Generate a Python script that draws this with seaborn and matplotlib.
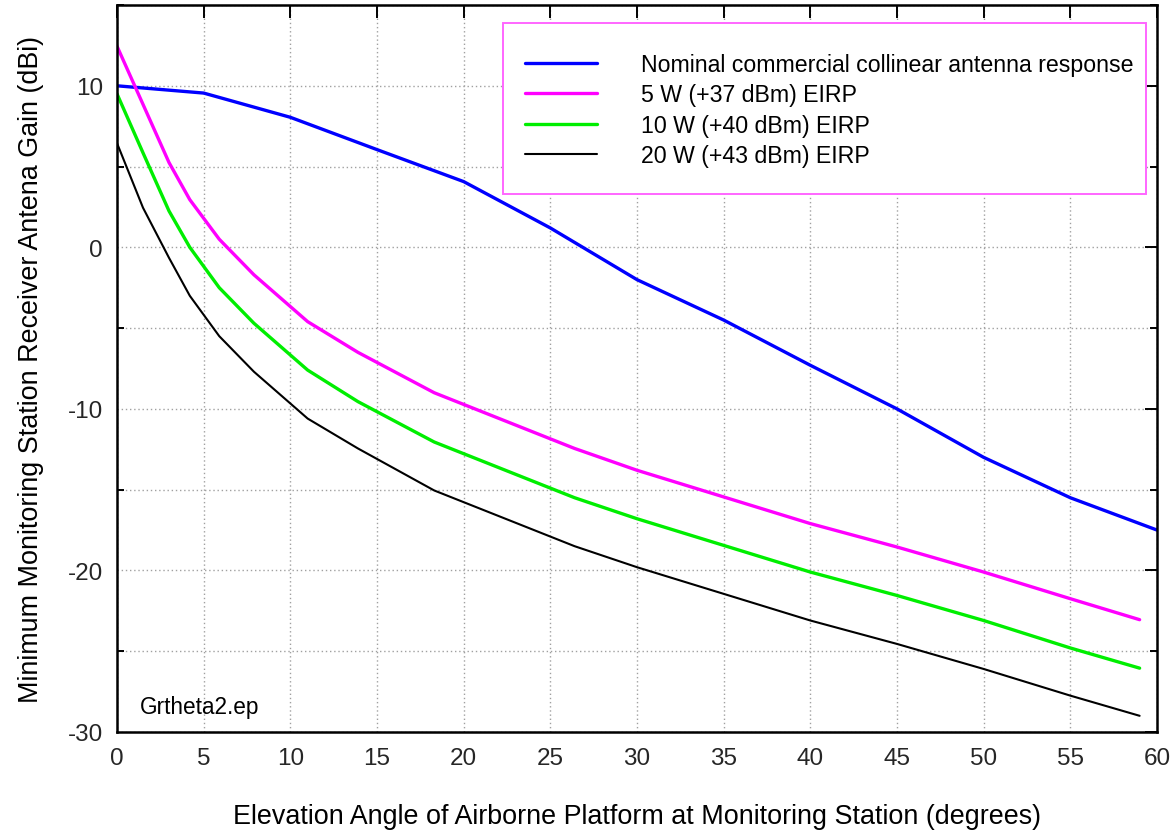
import matplotlib
matplotlib.use("Agg")
import matplotlib.pyplot as plt
from matplotlib.patches import Rectangle
from matplotlib.ticker import MultipleLocator, FixedLocator
import numpy as np
import pandas as pd
import seaborn as sns

# Nominal collinear antenna gain vs elevation angle
antenna_angle = [0, 5, 10, 15, 20, 25, 30, 35, 40, 45, 50, 55, 60]
antenna_gain = [10.0, 9.55, 8.05, 6.05, 4.07, 1.2, -2.0, -4.5, -7.3, -10.0, -13.0, -15.5, -17.5]

# Minimum required receiver gain for each EIRP level
eirp_angle = [0, 1.5, 3, 4.2, 5.9, 7.9, 11, 13.9, 18.3, 26.4, 30, 35, 40, 45, 50, 55, 59]
gain_5w = [12.45, 8.85, 5.25, 2.95, 0.5, -1.7, -4.6, -6.5, -9.0, -12.45,
           -13.8, -15.45, -17.1, -18.55, -20.1, -21.75, -23.05]
gain_10w = [9.5, 5.85, 2.25, 0.0, -2.5, -4.7, -7.6, -9.55, -12.05, -15.5,
            -16.8, -18.45, -20.1, -21.55, -23.1, -24.8, -26.05]
gain_20w = [6.45, 2.45, -0.65, -3.0, -5.5, -7.7, -10.6, -12.45, -15.05, -18.5,
            -19.8, -21.45, -23.1, -24.55, -26.1, -27.75, -29.0]

series_labels = [
    "Nominal commercial collinear antenna response",
    "5 W (+37 dBm) EIRP",
    "10 W (+40 dBm) EIRP",
    "20 W (+43 dBm) EIRP",
]
series_colors = ["#0000ff", "#ff00ff", "#00ee00", "#000000"]
series_widths = [2.4, 2.4, 2.4, 1.5]

frames = [pd.DataFrame({"angle": antenna_angle, "gain": antenna_gain, "series": series_labels[0]})]
for lab, g in zip(series_labels[1:], [gain_5w, gain_10w, gain_20w]):
    frames.append(pd.DataFrame({"angle": eirp_angle, "gain": g, "series": lab}))
df = pd.concat(frames, ignore_index=True)

sns.set_theme(style="white")
plt.rcParams["font.family"] = ["Liberation Sans", "DejaVu Sans"]
plt.rcParams["axes.unicode_minus"] = False

fig = plt.figure(figsize=(11.76, 8.37), dpi=100)
ax = fig.add_axes([0.0995, 0.1243, 0.8843, 0.8685])

for lab, col, lw in zip(series_labels, series_colors, series_widths):
    sns.lineplot(data=df[df["series"] == lab], x="angle", y="gain", color=col,
                 linewidth=lw, label=lab, ax=ax, sort=False, estimator=None)

ax.set_xlim(0, 60)
ax.set_ylim(-30, 15)

ax.xaxis.set_major_locator(MultipleLocator(5))
ax.yaxis.set_major_locator(FixedLocator([-30, -20, -10, 0, 10]))
ax.yaxis.set_minor_locator(FixedLocator([-25, -15, -5, 5, 15]))

ax.tick_params(axis="both", which="major", direction="in", length=9, width=1.4,
               color="black", labelsize=17.5, top=True, right=True)
ax.tick_params(axis="y", which="minor", direction="in", length=5, width=1.4,
               color="black", left=True, right=True)
ax.tick_params(axis="x", which="major", pad=11)
ax.tick_params(axis="y", which="major", pad=10)

ax.grid(True, which="both", color="#a0a0a0", linestyle=(0, (1, 2)), linewidth=1.0)
ax.set_axisbelow(True)

for s in ax.spines.values():
    s.set_color("black")
    s.set_linewidth(1.8)

ax.set_xlabel("Elevation Angle of Airborne Platform at Monitoring Station (degrees)",
              fontsize=19.4, labelpad=24, color="black")
ax.set_ylabel("Minimum Monitoring Station Receiver Antena Gain (dBi)",
              fontsize=19.4, labelpad=17, color="black")

ax.text(1.3, -28.45, "Grtheta2.ep", fontsize=16.3, va="center", ha="left", color="black")

# Key box: white panel with a magenta border, legend entries drawn on top
key_box = Rectangle((0.3712, 0.740), 0.6182, 0.2352, transform=ax.transAxes,
                    facecolor="white", edgecolor="#ff66ff", linewidth=1.4, zorder=4.5)
ax.add_patch(key_box)

leg = ax.legend(loc="upper left", bbox_to_anchor=(0.3923, 0.934), fontsize=16.7,
                frameon=False, handlelength=3.1, handletextpad=1.9,
                borderpad=0, labelspacing=0.32, borderaxespad=0)
leg.set_zorder(5)
for t in leg.get_texts():
    t.set_color("black")

fig.savefig("out.png", dpi=100)
